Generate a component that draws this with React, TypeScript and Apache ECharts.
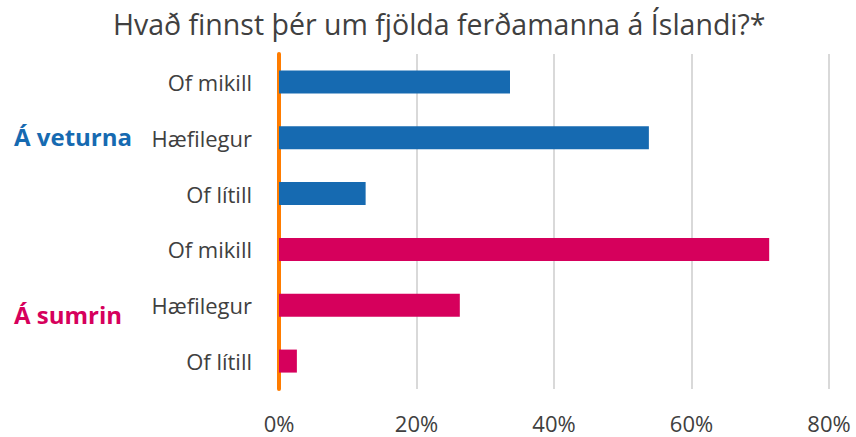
import React, { useEffect, useRef } from "react";
import * as echarts from "echarts";

const categories = ["Of mikill", "Hæfilegur", "Of lítill", "Of mikill", "Hæfilegur", "Of lítill"];
const winterValues = [33.6, 53.8, 12.6];
const summerValues = [71.3, 26.3, 2.6];
const groupLabels = ["Á veturna", "Á sumrin"];
const xTicks = [0, 20, 40, 60, 80];
const titleText = "Hvað finnst þér um fjölda ferðamanna á Íslandi?*";

const BLUE = "#166AB1";
const PINK = "#D6005C";
const ORANGE = "#FF7C00";
const TEXT = "#404040";
const FONT = "'Open Sans', 'Noto Sans', sans-serif";

export default function App() {
  const ref = useRef<HTMLDivElement>(null);
  useEffect(() => {
    if (!ref.current) return;
    const chart = echarts.init(ref.current, undefined, { renderer: "svg" });
    const data = [
      ...winterValues.map((v) => ({ value: v, itemStyle: { color: BLUE } })),
      ...summerValues.map((v) => ({ value: v, itemStyle: { color: PINK } })),
    ];
    chart.setOption({
      animation: false,
      backgroundColor: "#ffffff",
      title: {
        text: titleText,
        left: 108,
        top: 4,
        textStyle: { fontFamily: FONT, fontSize: 28.5, fontWeight: "normal", color: TEXT },
      },
      grid: { left: 279, right: 27, top: 54, bottom: 48, containLabel: false },
      xAxis: {
        type: "value",
        min: xTicks[0],
        max: xTicks[xTicks.length - 1],
        interval: 20,
        axisLine: { show: false },
        axisTick: { show: false },
        splitLine: { show: true, lineStyle: { color: "#D9D9D9", width: 2 } },
        axisLabel: {
          formatter: (v: number) => `${v}%`,
          fontFamily: FONT,
          fontSize: 22,
          color: TEXT,
          margin: 23,
        },
      },
      yAxis: {
        type: "category",
        data: categories,
        inverse: true,
        axisLine: { show: true, lineStyle: { color: ORANGE, width: 4 } },
        axisTick: { show: false },
        axisLabel: { fontFamily: FONT, fontSize: 22, color: TEXT, margin: 27 },
      },
      series: [
        {
          type: "bar",
          data,
          barWidth: 23,
        },
      ],
      graphic: [
        {
          type: "text",
          left: 14,
          top: 124,
          style: { text: groupLabels[0], fill: BLUE, font: `bold 24px ${FONT}` },
        },
        {
          type: "text",
          left: 14,
          top: 302,
          style: { text: groupLabels[1], fill: PINK, font: `bold 24px ${FONT}` },
        },
      ],
    });
    return () => chart.dispose();
  }, []);
  return (
    <div
      ref={ref}
      style={{ position: "fixed", left: 0, top: 0, width: 856, height: 437, background: "#fff" }}
    />
  );
}
